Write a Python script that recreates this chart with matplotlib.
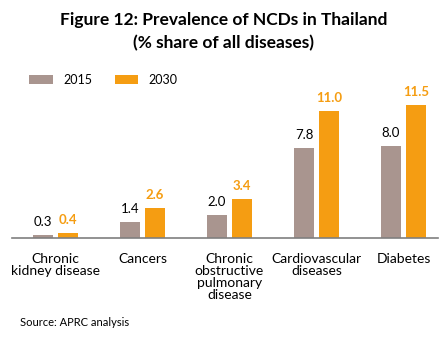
import numpy as np
import matplotlib.pyplot as plt

plt.rcParams['font.family'] = ['Lato', 'DejaVu Sans']

# Data
categories = ["Chronic\nkidney disease", "Cancers",
              "Chronic\nobstructive\npulmonary\ndisease",
              "Cardiovascular\ndiseases", "Diabetes"]
share_2015 = [0.3, 1.4, 2.0, 7.8, 8.0]
share_2030 = [0.4, 2.6, 3.4, 11.0, 11.5]

gray = '#A9958F'
orange = '#F59D12'

fig = plt.figure(figsize=(4.47, 3.39), dpi=100)
ax = fig.add_axes([12/447, 101/339, 426/447, 150/339])

x = np.arange(len(categories))
w = 0.23
off = 0.144
b1 = ax.bar(x - off, share_2015, w, color=gray, label='2015')
b2 = ax.bar(x + off, share_2030, w, color=orange, label='2030')

# value labels above each bar
for rect, v in zip(b1, share_2015):
    ax.annotate(f'{v:.1f}', (rect.get_x() + rect.get_width()/2, v),
                xytext=(0, 5), textcoords='offset points',
                ha='center', va='bottom', fontsize=9.5, color='black')
for rect, v in zip(b2, share_2030):
    ax.annotate(f'{v:.1f}', (rect.get_x() + rect.get_width()/2, v),
                xytext=(0, 5), textcoords='offset points',
                ha='center', va='bottom', fontsize=9.5, color=orange,
                fontweight='bold')

ax.set_xlim(-0.5, 4.397)
ax.set_ylim(0, 13)
ax.set_yticks([])
ax.set_xticks(x)
ax.set_xticklabels(categories, fontsize=10, va='top', linespacing=1.0)
ax.tick_params(axis='x', length=0, pad=11)
for s in ['top', 'right', 'left']:
    ax.spines[s].set_visible(False)
ax.spines['bottom'].set_color('#7F7F7F')
ax.spines['bottom'].set_linewidth(1.2)

fig.text(0.5, 1 - 20/339, "Figure 12: Prevalence of NCDs in Thailand",
         ha='center', va='center', fontsize=12.5, fontweight='bold')
fig.text(0.5, 1 - 43/339, "(% share of all diseases)",
         ha='center', va='center', fontsize=12.5, fontweight='bold')

fig.legend(handles=[b1, b2], loc='center left', ncol=2, frameon=False,
           bbox_to_anchor=(18/447, 1 - 80/339), fontsize=9,
           handlelength=1.9, handleheight=0.8, handletextpad=0.8,
           columnspacing=1.8)

fig.text(20/447, 1 - 323/339, "Source: APRC analysis", ha='left',
         va='center', fontsize=8)

fig.savefig('out.png', dpi=100)
